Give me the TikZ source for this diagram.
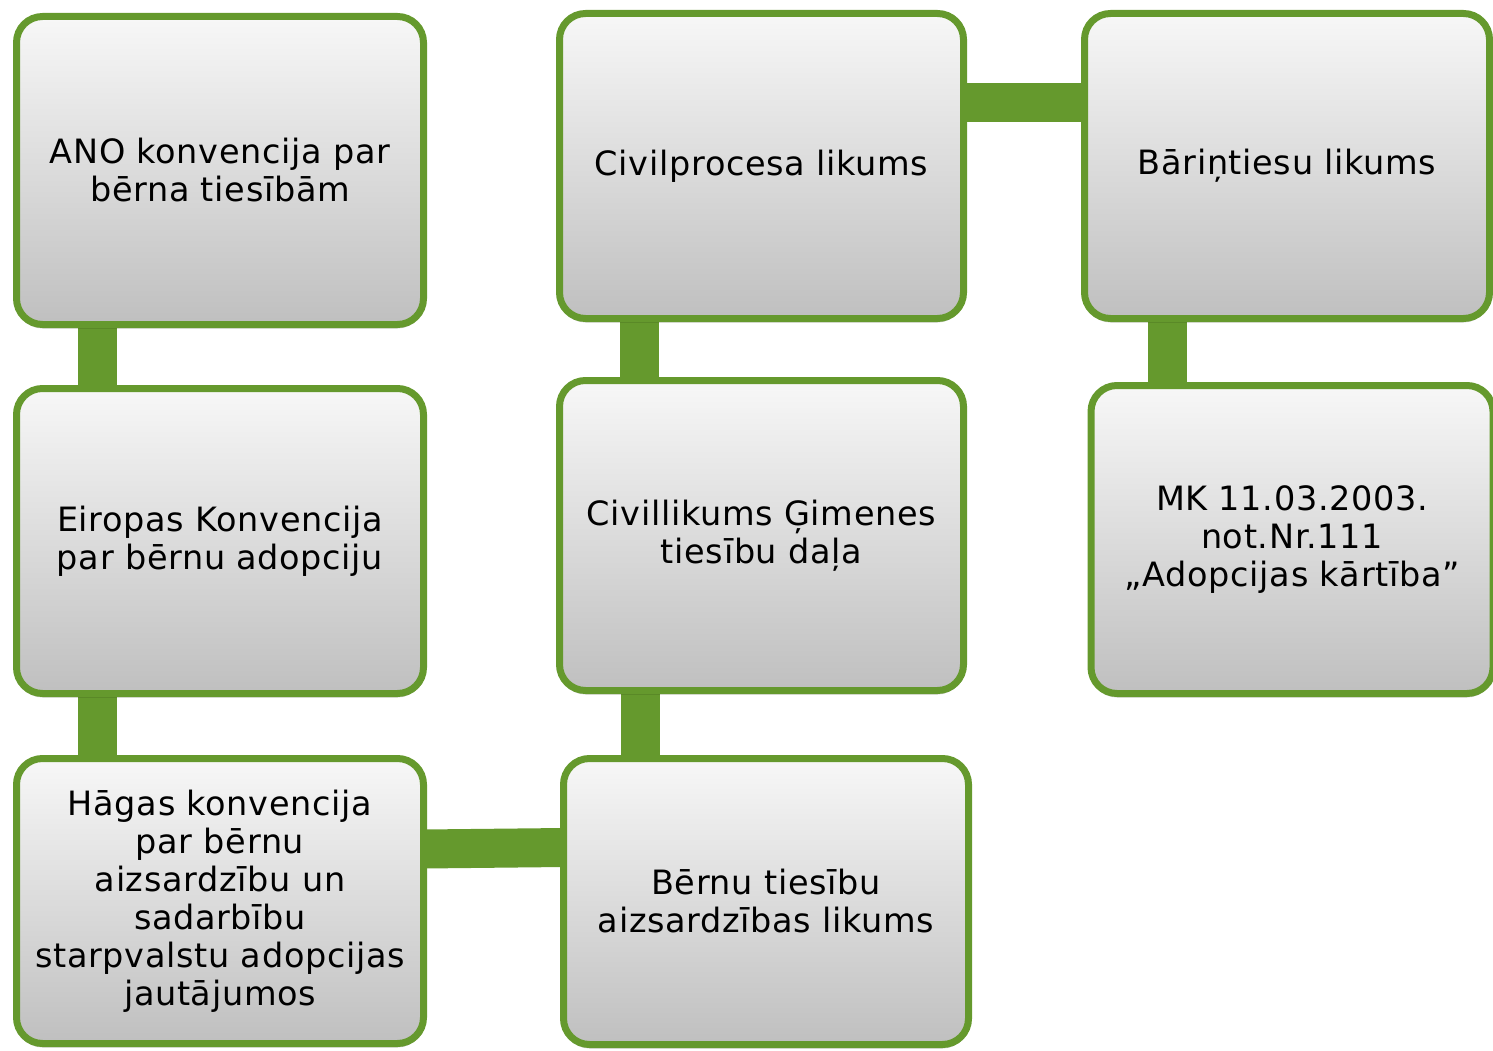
\documentclass[tikz,border=0pt]{standalone}
\usepackage{fontspec}
\setmainfont[LetterSpace=2]{DejaVu Sans}
\usetikzlibrary{shadows}
\definecolor{boxgreen}{RGB}{101,153,45}
\pgfdeclarelayer{bg}
\pgfsetlayers{bg,main}
\tikzset{
  box/.style={draw=boxgreen, line width=7pt, rounded corners=26pt,
    top color=black!3, bottom color=black!25, shading angle=0,
    align=center, inner sep=0pt, outer sep=0pt,
    font=\fontsize{33.5}{38}\selectfont,
    drop shadow={shadow xshift=0pt, shadow yshift=-4pt, opacity=0.18, fill=black}},
  conn/.style={draw=boxgreen, line width=39pt, line cap=butt}
}
\begin{document}
\begin{tikzpicture}[x=1pt,y=-1pt]
\useasboundingbox (0,0) rectangle (1493,1051);
\node[box, minimum width=407pt, minimum height=308pt] (A) at (220,170.5) {ANO konvencija par\\bērna tiesībām};
\node[box, minimum width=407pt, minimum height=305pt] (B) at (220,541) {Eiropas Konvencija\\par bērnu adopciju};
\node[box, minimum width=407pt, minimum height=285pt] (C) at (220,901) {Hāgas konvencija\\par bērnu\\aizsardzību un\\sadarbību\\starpvalstu adopcijas\\jautājumos};
\node[box, minimum width=404pt, minimum height=305pt] (D) at (761.5,166) {Civilprocesa likums};
\node[box, minimum width=404pt, minimum height=310pt] (E) at (761.5,535.5) {Civillikums Ģimenes\\tiesību daļa};
\node[box, minimum width=405pt, minimum height=286pt] (F) at (766,901.5) {Bērnu tiesību\\aizsardzības likums};
\node[box, minimum width=405pt, minimum height=305pt] (G) at (1287,166) {Bāriņtiesu likums};
\node[box, minimum width=402pt, minimum height=308pt] (H) at (1292,539.5) {MK 11.03.2003.\\not.Nr.111\\„Adopcijas kārtība”};
\begin{pgfonlayer}{bg}
\draw[conn] ([xshift=81pt]A.south west) -- ([xshift=81pt]A.south west |- B.north);
\draw[conn] ([xshift=81pt]B.south west) -- ([xshift=81pt]B.south west |- C.north);
\draw[conn] ([xshift=80pt]D.south west) -- ([xshift=80pt]D.south west |- E.north);
\draw[conn] ([xshift=81pt]E.south west) -- ([xshift=81pt]E.south west |- F.north);
\draw[conn] ([xshift=83pt]G.south west) -- ([xshift=83pt]G.south west |- H.north);
\draw[conn] ([yshift=63pt]D.east) -- ([yshift=63pt]D.east -| G.west);
\draw[conn] ([yshift=52pt]C.east) -- ([yshift=54pt]F.west);
\end{pgfonlayer}
\end{tikzpicture}
\end{document}
